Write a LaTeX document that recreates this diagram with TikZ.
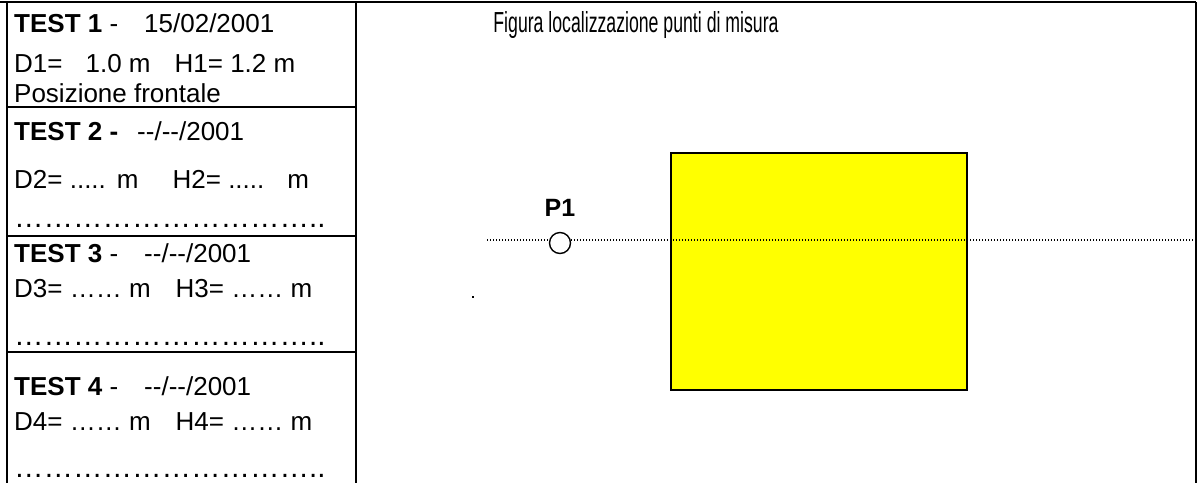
\documentclass[tikz,border=0pt]{standalone}
\usepackage{fontspec}
\newfontfamily\arial{Liberation Sans}
\usetikzlibrary{positioning}
\definecolor{targetyellow}{RGB}{255,255,0}

\begin{document}
\begin{tikzpicture}[
    x=1pt, y=-1pt,
    frameline/.style={line width=2.5pt, black},
    rowline/.style={line width=2pt, black},
    txt/.style={anchor=base west, inner sep=0pt, font=\arial\fontsize{26}{31}\selectfont},
    dots/.style={anchor=base west, inner sep=0pt, font=\arial\fontsize{29.5}{36}\selectfont},
    title/.style={anchor=base, inner sep=0pt, font=\arial\fontsize{29}{34}\selectfont},
    label/.style={anchor=base, inner sep=0pt, font=\arial\bfseries\fontsize{25}{30}\selectfont},
    target/.style={draw=black, line width=1.5pt, fill=targetyellow},
    axisline/.style={line width=1.3pt, dash pattern=on 1.3pt off 1.7pt},
    probe/.style={circle, draw, fill=white, line width=1.4pt, minimum size=21pt, inner sep=0pt}
]
\useasboundingbox (0,0) rectangle (1199,483);

% table frame
\draw[frameline] (0,2) -- (1196,2);
\draw[frameline] (7,2) -- (7,483);
\draw[frameline] (356,2) -- (356,483);
\draw[frameline] (1196,2) -- (1196,483);
\draw[rowline] (7,107) -- (356,107);
\draw[rowline] (7,236) -- (356,236);
\draw[rowline] (7,352) -- (356,352);

% test 1
\node[txt] (t1) at (14,32) {\textbf{TEST 1} -\hspace{26pt}15/02/2001};
\node[txt] (d1) at (14,72) {D1=\hspace{23pt}1.0 m\hspace{24pt}H1= 1.2 m};
\node[txt] (n1) at (14,102) {Posizione frontale};

% test 2
\node[txt] (t2) at (14,140) {\textbf{TEST 2 -}\hspace{19pt}--/--/2001};
\node[txt] (d2) at (14,188) {D2= .....\hspace{11pt}m\hspace{34pt}H2= .....\hspace{23pt}m};
\node[dots] (n2) at (14,227) {…………………………..};

% test 3
\node[txt] (t3) at (14,262) {\textbf{TEST 3} -\hspace{26pt}--/--/2001};
\node[txt] (d3) at (14,297) {D3= …… m\hspace{25pt}H3= …… m};
\node[dots] (n3) at (14,345) {…………………………..};

% test 4
\node[txt] (t4) at (14,395) {\textbf{TEST 4} -\hspace{26pt}--/--/2001};
\node[txt] (d4) at (14,430) {D4= …… m\hspace{25pt}H4= …… m};
\node[dots] (n4) at (14,477) {…………………………..};

% figure
\begin{scope}[shift={(636,32)}, xscale=0.61]
  \node[title, transform shape] (fig) at (0,0) {Figura localizzazione punti di misura};
\end{scope}
\draw[target] (671,153) rectangle (967,390);
\coordinate (axisL) at (487,240);
\coordinate (axisR) at (1195,240);
\draw[axisline] (axisL) -- (axisR);
\node[probe] (p1) at (560,243) {};
\node[label] (p1lbl) at (560,216) {P1};
\fill (472,296) rectangle (474,298);

\end{tikzpicture}
\end{document}
